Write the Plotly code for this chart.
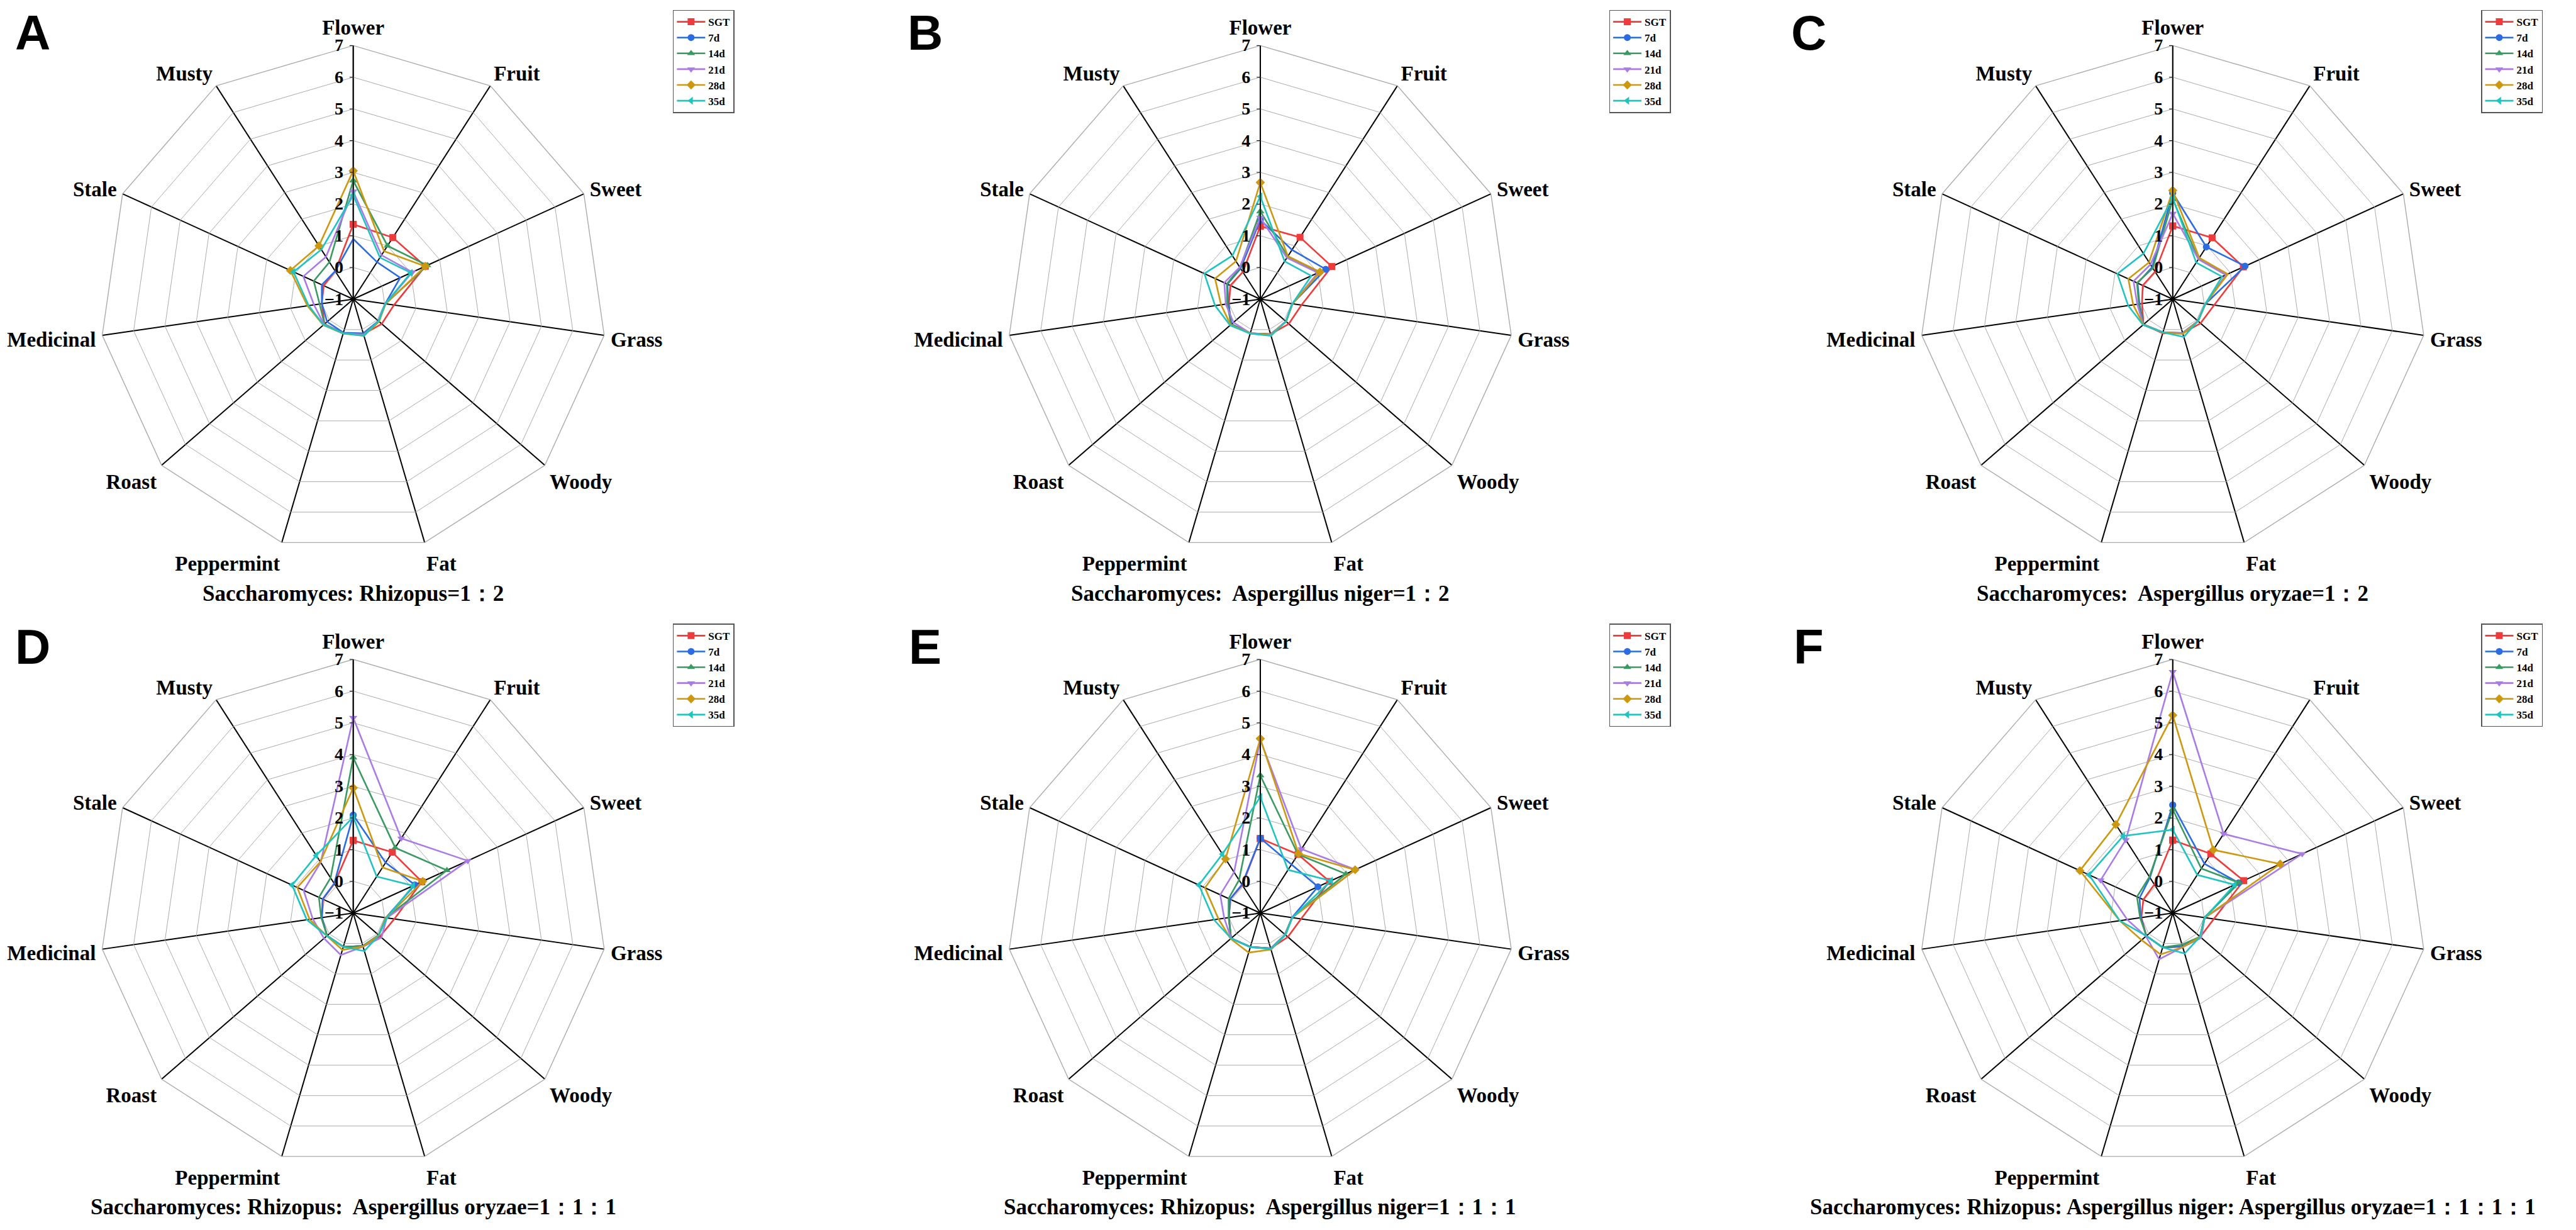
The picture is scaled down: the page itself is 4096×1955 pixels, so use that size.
import plotly.graph_objects as go

S = 4096 / 4328.0
W, H = 4096, 1955

categories = ["Flower", "Fruit", "Sweet", "Grass", "Woody", "Fat",
              "Peppermint", "Roast", "Medicinal", "Stale", "Musty"]
series_names = ["SGT", "7d", "14d", "21d", "28d", "35d"]
radial_ticks = [-1, 0, 1, 2, 3, 4, 5, 6, 7]

panel_letters = ["A", "B", "C", "D", "E", "F"]
panel_titles = [
    "Saccharomyces: Rhizopus=1：2",
    "Saccharomyces:  Aspergillus niger=1：2",
    "Saccharomyces:  Aspergillus oryzae=1：2",
    "Saccharomyces: Rhizopus:  Aspergillus oryzae=1：1：1",
    "Saccharomyces: Rhizopus:  Aspergillus niger=1：1：1",
    "Saccharomyces: Rhizopus: Aspergillus niger: Aspergillus oryzae=1：1：1：1",
]

# values per panel, per series, in category order
A_SGT = [1.36, 1.31, 1.50, 0.30, 0.19, 0.15, 0.12, 0.20, 0.00, 0.03, 0.05]
A_7d  = [0.90, 0.39, 0.63, 0.02, 0.05, 0.12, 0.10, 0.09, 0.00, 0.09, 0.05]
A_14d = [2.74, 1.00, 1.57, 0.03, 0.06, 0.15, 0.12, 0.20, 0.07, 0.37, 0.39]
A_21d = [2.40, 0.65, 1.05, 0.03, 0.06, 0.17, 0.12, 0.22, 0.25, 0.73, 0.59]
A_28d = [3.05, 0.80, 1.50, 0.03, 0.08, 0.20, 0.13, 0.25, 0.46, 1.18, 1.00]
A_35d = [2.28, 0.56, 1.00, 0.02, 0.06, 0.20, 0.12, 0.24, 0.42, 1.07, 0.86]

B_SGT = [1.30, 1.32, 1.48, 0.31, 0.19, 0.15, 0.12, 0.24, 0.00, 0.04, 0.02]
B_7d  = [1.50, 0.85, 1.27, 0.02, 0.08, 0.15, 0.12, 0.20, 0.02, 0.14, 0.15]
B_14d = [1.77, 0.60, 1.05, 0.02, 0.07, 0.16, 0.12, 0.22, 0.05, 0.16, 0.18]
B_21d = [1.57, 0.55, 1.00, 0.02, 0.07, 0.16, 0.12, 0.12, 0.10, 0.25, 0.20]
B_28d = [2.68, 0.61, 1.07, 0.03, 0.08, 0.17, 0.12, 0.24, 0.25, 0.57, 0.42]
B_35d = [2.24, 0.42, 0.77, 0.02, 0.07, 0.20, 0.13, 0.26, 0.44, 0.94, 0.63]

C_SGT = [1.31, 1.30, 1.45, 0.32, 0.16, 0.12, 0.12, 0.22, -0.02, 0.04, 0.03]
C_7d  = [2.35, 0.96, 1.51, 0.04, 0.06, 0.11, 0.09, 0.22, 0.06, 0.22, 0.20]
C_14d = [2.15, 0.50, 0.85, 0.04, 0.05, 0.11, 0.09, 0.22, 0.08, 0.24, 0.16]
C_21d = [1.70, 0.50, 0.85, 0.04, 0.05, 0.12, 0.09, 0.23, 0.13, 0.36, 0.30]
C_28d = [2.43, 0.55, 0.91, 0.04, 0.06, 0.14, 0.10, 0.23, 0.26, 0.54, 0.38]
C_35d = [2.20, 0.37, 0.71, 0.04, 0.05, 0.24, 0.09, 0.24, 0.42, 0.92, 0.71]

D_SGT = [1.29, 1.28, 1.38, 0.31, 0.12, 0.08, 0.11, 0.09, 0.00, 0.05, 0.10]
D_7d  = [2.09, 0.89, 1.14, 0.04, 0.06, 0.08, 0.11, 0.09, 0.00, 0.06, 0.11]
D_14d = [3.90, 1.45, 2.25, 0.04, 0.06, 0.08, 0.11, 0.09, 0.02, 0.19, 0.32]
D_21d = [5.16, 1.80, 2.97, 0.07, 0.18, 0.10, 0.38, 0.22, 0.29, 0.72, 0.90]
D_28d = [2.95, 0.71, 1.41, 0.05, 0.07, 0.10, 0.21, 0.10, 0.39, 0.94, 0.92]
D_35d = [2.03, 0.37, 1.08, 0.07, 0.07, 0.25, 0.11, 0.10, 0.48, 1.12, 1.16]

E_SGT = [1.35, 1.20, 1.40, 0.30, 0.15, 0.16, 0.11, 0.22, 0.00, 0.05, 0.05]
E_7d  = [1.36, 0.82, 1.00, 0.01, 0.04, 0.16, 0.11, 0.22, 0.00, 0.05, 0.07]
E_14d = [3.34, 1.20, 1.97, 0.01, 0.04, 0.17, 0.11, 0.22, 0.01, 0.10, 0.24]
E_21d = [4.47, 1.40, 2.30, 0.01, 0.05, 0.17, 0.12, 0.22, 0.15, 0.39, 0.53]
E_28d = [4.50, 1.23, 2.29, 0.02, 0.05, 0.20, 0.30, 0.24, 0.33, 0.92, 1.03]
E_35d = [2.66, 0.62, 1.45, 0.02, 0.05, 0.18, 0.12, 0.22, 0.48, 1.13, 1.21]

F_SGT = [1.30, 1.22, 1.46, 0.31, 0.15, 0.10, 0.13, 0.10, 0.00, 0.02, 0.07]
F_7d  = [2.41, 0.85, 1.29, 0.01, 0.14, 0.10, 0.13, 0.10, 0.02, 0.15, 0.33]
F_14d = [2.27, 0.67, 1.30, 0.01, 0.14, 0.04, 0.13, 0.10, 0.04, 0.24, 0.36]
F_21d = [6.61, 1.97, 3.49, 0.02, 0.19, 0.12, 0.52, 0.12, 0.45, 1.50, 1.74]
F_28d = [5.24, 1.37, 2.73, 0.02, 0.15, 0.12, 0.36, 0.30, 0.69, 2.22, 2.32]
F_35d = [1.63, 0.43, 1.15, 0.02, 0.14, 0.33, 0.13, 0.10, 0.69, 1.90, 1.89]

panels = [
    [A_SGT, A_7d, A_14d, A_21d, A_28d, A_35d],
    [B_SGT, B_7d, B_14d, B_21d, B_28d, B_35d],
    [C_SGT, C_7d, C_14d, C_21d, C_28d, C_35d],
    [D_SGT, D_7d, D_14d, D_21d, D_28d, D_35d],
    [E_SGT, E_7d, E_14d, E_21d, E_28d, E_35d],
    [F_SGT, F_7d, F_14d, F_21d, F_28d, F_35d],
]

colors = ["#EE3B3B", "#2B6CE0", "#3A9A62", "#A97BE6", "#CC980F", "#1FC4C0"]
symbols = ["square", "circle", "triangle-up", "triangle-down", "diamond", "triangle-left"]

SERIF = "Liberation Serif, Times New Roman, serif"
SANS = "Liberation Sans, Arial, sans-serif"

# layout geometry in reference pixels
col_x = [585, 2109, 3642]
row_y = [494, 1525]
R_ref = 426
legend_x = [1122, 2695, 4160]
legend_top = [8, 1039]
title_dy = 494
letter_x = [46, 1546, 3030]
letter_y = [47, 1078]

fig = go.Figure()
layout_extra = {}
annotations = []

for p in range(6):
    r, c = divmod(p, 3)
    cx, cy = col_x[c] * S, row_y[r] * S
    R = R_ref * S
    pname = "polar" if p == 0 else f"polar{p+1}"
    lname = "legend" if p == 0 else f"legend{p+1}"
    for i, name in enumerate(series_names):
        vals = panels[p][i]
        fig.add_trace(go.Scatterpolar(
            r=vals + [vals[0]],
            theta=categories + [categories[0]],
            mode="lines+markers",
            name=name,
            subplot=pname,
            legend=lname,
            line=dict(color=colors[i], width=2.6),
            marker=dict(symbol=symbols[i], size=11, color=colors[i]),
            cliponaxis=False,
        ))
    layout_extra[pname] = dict(
        domain=dict(x=[(cx - R) / W, (cx + R) / W],
                    y=[1 - (cy + R) / H, 1 - (cy - R) / H]),
        gridshape="linear",
        bgcolor="white",
        radialaxis=dict(
            range=[-1, 7], tickvals=radial_ticks, angle=90,
            side="counterclockwise", tickangle=90,
            showline=True, linecolor="black", linewidth=1.6,
            gridcolor="#ABABAB", gridwidth=1.4,
            ticks="outside", ticklen=5, tickcolor="black",
            tickfont=dict(family=SERIF, size=28, color="black", weight="bold"),
            layer="above traces",
        ),
        angularaxis=dict(
            categoryarray=categories, type="category",
            direction="clockwise", rotation=90,
            showline=True, linecolor="#ABABAB", linewidth=1.4,
            showgrid=True, gridcolor="black", gridwidth=1.6,
            ticks="outside", ticklen=3, tickcolor="rgba(0,0,0,0)",
            tickfont=dict(family=SERIF, size=33, color="black", weight="bold"),
            layer="below traces",
        ),
    )
    layout_extra[lname] = dict(
        x=legend_x[c] * S / W,
        y=1 - legend_top[r] * S / H,
        xanchor="left", yanchor="top",
        bgcolor="white", bordercolor="#555555", borderwidth=1.5,
        font=dict(family=SERIF, size=17, color="black", weight="bold"),
        tracegroupgap=0,
        itemwidth=45,
    )
    annotations.append(dict(
        x=cx / W, y=1 - (row_y[r] + title_dy) * S / H,
        xref="paper", yref="paper", showarrow=False,
        text=panel_titles[p], xanchor="center", yanchor="middle",
        font=dict(family=SERIF, size=35, color="black", weight="bold"),
    ))
    annotations.append(dict(
        x=letter_x[c] * S / W, y=1 - letter_y[r] * S / H,
        xref="paper", yref="paper", showarrow=False,
        text=panel_letters[p], xanchor="center", yanchor="middle",
        font=dict(family=SANS, size=78, color="black", weight="bold"),
    ))

fig.update_layout(
    width=W, height=H,
    margin=dict(l=0, r=0, t=0, b=0),
    paper_bgcolor="white",
    plot_bgcolor="white",
    annotations=annotations,
    **layout_extra,
)

fig.write_html("out.html")
